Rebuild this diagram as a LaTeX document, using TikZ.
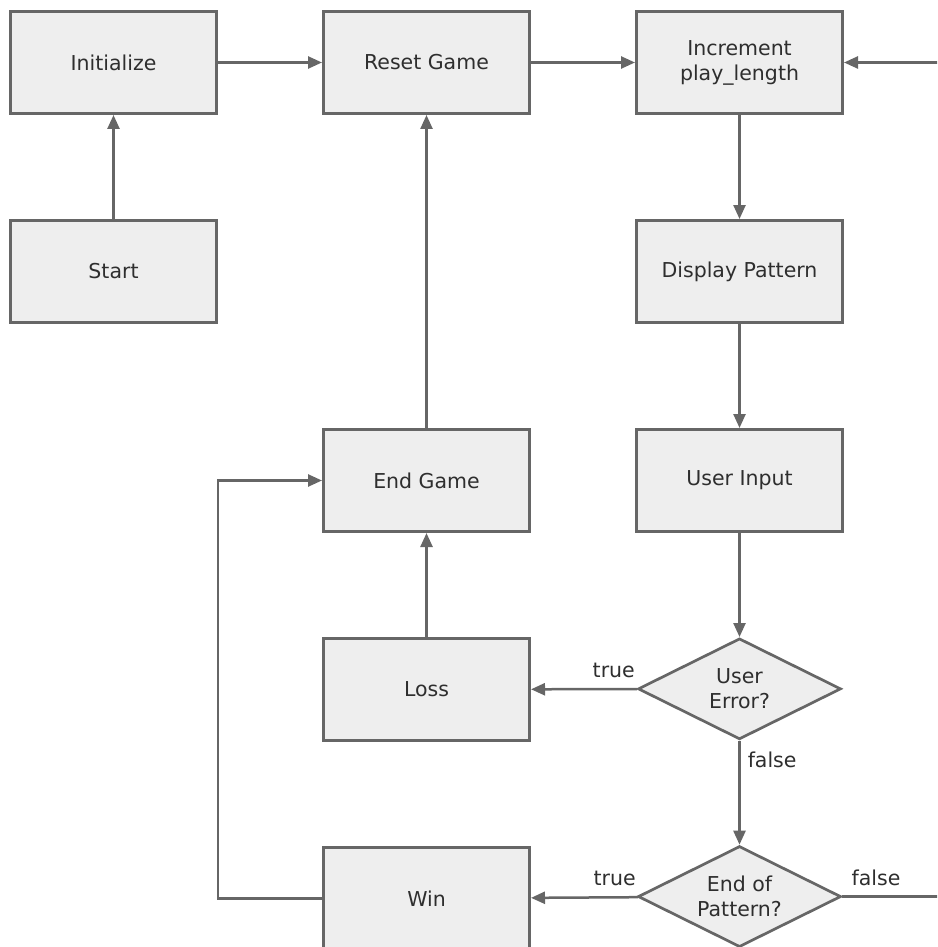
\documentclass[tikz,border=0pt]{standalone}
\usepackage{fontspec}
\setmainfont{DejaVu Sans}
\usetikzlibrary{positioning}
\usetikzlibrary{shapes.geometric}
\usetikzlibrary{arrows.meta}
\definecolor{linegray}{HTML}{666666}
\definecolor{boxfill}{HTML}{EEEEEE}
\definecolor{textgray}{HTML}{2E2E2E}
\tikzset{node distance=104pt,
    every node/.style={
        font=\fontsize{20.5}{25}\selectfont,
        text=textgray},
    block/.style={
        draw=linegray,
        line width=3pt,
        fill=boxfill,
        minimum width=206pt,
        minimum height=102pt,
        align=center},
    decision/.style={
        diamond,
        aspect=2,
        draw=linegray,
        line width=2.7pt,
        fill=boxfill,
        minimum width=203pt,
        minimum height=101pt,
        inner sep=0pt,
        align=center},
    flow/.style={
        draw=linegray,
        ->,>={Triangle[length=14pt,width=12pt]},
        line width=2.5pt},
    every edge/.style={flow}}

\begin{document}
\begin{tikzpicture}[x=1pt,y=-1pt]
        \useasboundingbox (0,0) rectangle (937,947);
        \clip (0,0) rectangle (937,947);
        \node[block] (init) at (113.5,62.5) {Initialize};
        \node[block, below=of init] (start) {Start};
        \node[block, right=of init] (reset) {Reset Game};
        \node[block, right=of reset] (inc) {Increment\\play\_length};
        \node[block, below=of inc] (disp) {Display Pattern};
        \node[block, below=of disp] (input) {User Input};
        \node[block, left=of input] (endg) {End Game};
        \node[decision, below=of input] (err) {User\\Error?};
        \node[block, below=of endg] (loss) {Loss};
        \node[decision, below=of err] (eop) {End of\\Pattern?};
        \node[block, below=of loss] (win) {Win};
        \coordinate (inback) at (inc -| 940,0);
        \coordinate (outback) at (eop -| 940,0);
        \coordinate[left=of win] (winback);
        \draw (start) edge (init);
        \draw (init) edge (reset);
        \draw (reset) edge (inc);
        \draw (inback) edge (inc);
        \draw (inc) edge (disp);
        \draw (disp) edge (input);
        \draw (input) edge (err);
        \draw (err) edge node[pos=0, anchor=south east, inner xsep=1pt, inner ysep=10pt] {true} (loss);
        \draw (err) edge node[pos=0, anchor=north west, inner xsep=7pt, inner ysep=10pt] {false} (eop);
        \draw (eop) edge node[pos=0, anchor=south east, inner xsep=1pt, inner ysep=10pt] {true} (win);
        \draw (eop) edge[-] node[pos=0, anchor=south west, inner xsep=8pt, inner ysep=10pt] {false} (outback);
        \draw (loss) edge (endg);
        \draw (endg) edge (reset);
        \draw[flow] (win) -- (winback) |- (endg);
\end{tikzpicture}
\end{document}
